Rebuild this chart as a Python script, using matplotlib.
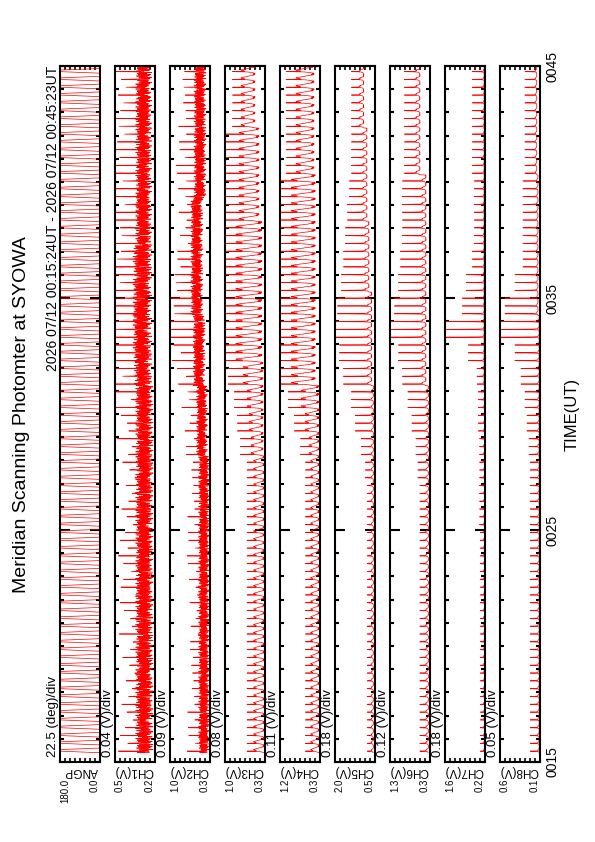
import numpy as np
import matplotlib
matplotlib.use('Agg')
import matplotlib.pyplot as plt
from matplotlib.ticker import FixedLocator

plt.rcParams['font.family'] = ['Liberation Sans', 'DejaVu Sans']

# Time span of the record (minutes after 00:00 UT)
t_first = 15 + 24 / 60     # 00:15:24
t_last = 45 + 23 / 60      # 00:45:23
scan_sec = 20.2            # one full scan cycle
minute_bins = list(range(15, 46))
time_ticks = [15, 25, 35, 45]
time_labels = ['0015', '0025', '0035', '0045']

title = 'Meridian Scanning Photomter at SYOWA'
header = '2026 07/12 00:15:24UT - 2026 07/12 00:45:23UT'

# Scanner angle (deg) over one cycle: sweep out, dwell, sweep back, dwell
cycle_angles = [0, 36, 72, 108, 144, 180, 180, 180, 180, 180, 180, 144, 108, 72, 36,
                0, 0, 0, 0, 0, 0, 0, 0, 0, 0]

# Panel names, ranges and scale labels
names = ['ANGP', 'CH1(V)', 'CH2(V)', 'CH3(V)', 'CH4(V)', 'CH5(V)', 'CH6(V)', 'CH7(V)', 'CH8(V)']
vmins = [0.0, 0.2, 0.3, 0.3, 0.3, 0.5, 0.3, 0.2, 0.1]
vmaxs = [180.0, 0.5, 1.0, 1.0, 1.2, 2.0, 1.3, 1.6, 0.6]
divs = ['22.5 (deg)/div', '0.04 (V)/div', '0.09 (V)/div', '0.08 (V)/div', '0.11 (V)/div',
        '0.18 (V)/div', '0.12 (V)/div', '0.18 (V)/div', '0.05 (V)/div']

# Per-minute levels (0015 ... 0045): background, scatter, auroral peak
ch1_base = [0.215] * 16 + [0.225] * 15
ch1_swing = [0.13] * 17 + [0.14] * 5 + [0.12] * 9
ch1_peak = [0.345] * 13 + [0.36, 0.37, 0.38, 0.41, 0.44, 0.50, 0.485, 0.455, 0.44, 0.425, 0.425] + [0.41] * 7

ch2_base = [0.31] * 13 + [0.345] * 3 + [0.385] * 3 + [0.425] * 5 + [0.37] * 7
ch2_swing = [0.19] * 16 + [0.21] * 15
ch2_peak = [0.51] * 13 + [0.58, 0.615, 0.65, 0.685, 0.755, 1.0, 0.86, 0.79, 0.72] + [0.685] * 4 + [0.65] * 5

ch3_base = [0.31] * 13 + [0.335] * 4 + [0.356] * 6 + [0.405] * 4 + [0.475] * 4
ch3_swing = [0.19] * 13 + [0.21, 0.245, 0.28, 0.35] + [0.455] * 6 + [0.35] * 4 + [0.245] * 4
ch3_peak = [0.51] * 13 + [0.615, 0.65, 0.685, 0.755, 0.825, 1.0, 0.895] + [0.86] * 3 + [0.79] * 4 + [0.734] * 4

ch4_base = [0.32] * 16 + [0.408] * 9 + [0.435] * 6
ch4_swing = [0.19] * 13 + [0.225, 0.315, 0.405] + [0.54] * 9 + [0.405] * 6
ch4_peak = [0.525] * 13 + [0.615, 0.705, 0.795, 0.885, 0.93, 1.2, 1.02] + [0.975] * 5 + [0.84] * 6

ch5_base = [0.56] * 16 + [0.62] * 4 + [0.725] * 3 + [0.80] * 4 + [0.92] * 4
ch5_swing = [0.075] * 16 + [0.15] * 15
ch5_peak = [0.725] * 12 + [0.80, 0.95, 1.175, 1.325, 1.55, 1.70, 2.0, 1.775, 1.625, 1.55, 1.475, 1.40, 1.325] + [1.25] * 6

ch6_base = [0.34] * 16 + [0.40] * 9 + [0.55] * 6
ch6_swing = [0.06] * 16 + [0.10] * 15
ch6_peak = [0.50] * 12 + [0.55, 0.60, 0.70, 0.80, 0.90, 1.00, 1.30, 1.10, 1.00, 0.95] + [0.90] * 3 + [0.85] * 6

ch7_base = [0.214] * 16 + [0.228] * 15
ch7_swing = [0.028] * 31
ch7_peak = [0.34] * 10 + [0.368] * 4 + [0.41, 0.41, 0.452, 0.76, 1.6, 0.97, 0.83, 0.62] + [0.55] * 3 + [0.62] * 6

ch8_base = [0.11] * 19 + [0.125] * 6 + [0.14] * 6
ch8_swing = [0.015] * 31
ch8_peak = [0.21] * 13 + [0.225, 0.25, 0.275, 0.325, 0.40, 0.60, 0.525, 0.40] + [0.30] * 4 + [0.275] * 6

# Shape over one scan cycle (fraction of scatter), same sample order as cycle_angles
noise_tex = [0.5, 0.9, 0.2, 0.7, 0.35, 1.0, 0.1, 0.6, 0.3, 0.8, 0.0, 0.55, 0.25, 0.75, 0.45,
             0.95, 0.15, 0.65, 0.4, 0.85, 0.05, 0.7, 0.3, 0.9, 0.2]
wave_tex = [0.0, 0.15, 0.2, 0.35, 0.4, 0.55, 0.6, 0.75, 0.8, 0.95, 1.0, 0.9, 0.85, 0.7, 0.65,
            0.5, 0.45, 0.3, 0.25, 0.1, 0.05, 0.15, 0.0, 0.1, 0.0]
step_tex = [0.1, 0.2, 0.3, 0.4, 0.6, 0.9, 1.0, 0.95, 1.0, 0.9, 1.0, 0.7, 0.5, 0.3, 0.2,
            0.0, 0.05, 0.0, 0.1, 0.0, 0.05, 0.0, 0.1, 0.0, 0.05]
# auroral emission seen as the scanner passes the arc
spike_cyc = [0, 0, 0, 0, 0.15, 1.0, 0.15, 0, 0, 0, 0, 0, 0, 0, 0,
             0, 0, 0, 0, 0, 0, 0, 0, 0, 0]

channels = [
    (ch1_base, ch1_swing, ch1_peak, noise_tex, 9),
    (ch2_base, ch2_swing, ch2_peak, noise_tex, 7),
    (ch3_base, ch3_swing, ch3_peak, wave_tex, 0),
    (ch4_base, ch4_swing, ch4_peak, wave_tex, 0),
    (ch5_base, ch5_swing, ch5_peak, step_tex, 0),
    (ch6_base, ch6_swing, ch6_peak, step_tex, 0),
    (ch7_base, ch7_swing, ch7_peak, step_tex, 0),
    (ch8_base, ch8_swing, ch8_peak, step_tex, 0),
]

# sample times of the scan cycles
n_cyc_samp = len(cycle_angles)
h = scan_sec / 60
n_cyc = int((t_last - t_first) / h)
k = np.repeat(np.arange(n_cyc), n_cyc_samp)
s = np.tile(np.arange(n_cyc_samp), n_cyc)
t = t_first + k * h + s * h / n_cyc_samp
m = np.clip((t_first + k * h - minute_bins[0]).astype(int), 0, len(minute_bins) - 1)
spike_val = np.array(spike_cyc)[s]

series = [np.array(cycle_angles)[s]]
for base, swing, peak, tex, shift in channels:
    base, swing, peak = np.array(base), np.array(swing), np.array(peak)
    tex_idx = (s + shift * k) % n_cyc_samp   # noise does not repeat scan to scan
    v = base[m] + swing[m] * np.array(tex)[tex_idx] + (peak[m] - base[m]) * spike_val
    series.append(v)

W, H = 595, 842
fig = plt.figure(figsize=(W / 100, H / 100), dpi=100)


def px(x, y):
    return x / W, 1 - y / H


top, bottom, pw = 66, 762, 40
for i in range(9):
    left = 60 + 55 * i
    ax = fig.add_axes([left / W, (H - bottom) / H, pw / W, (bottom - top) / H])
    ax.plot(series[i], t, color='red', lw=0.5)
    vmin, vmax = vmins[i], vmaxs[i]
    ax.set_xlim(vmax, vmin)
    ax.set_ylim(15, 45)

    ax.set_xticks([vmax, vmin])
    ax.set_xticklabels([f'{vmax:.1f}', f'{vmin:.1f}'])
    ax.xaxis.set_minor_locator(FixedLocator(np.linspace(vmin, vmax, 9)[1:-1]))
    ax.tick_params(axis='x', which='major', length=0, pad=12, labelsize=7, labelrotation=90)
    ax.tick_params(axis='x', which='minor', direction='in', length=3, width=1.2, top=True, bottom=True)
    lbls = ax.get_xticklabels()
    lbls[0].set_ha('left')
    lbls[1].set_ha('right')

    ax.set_yticks(time_ticks)
    ax.yaxis.set_minor_locator(FixedLocator(minute_bins))
    ax.tick_params(axis='y', which='major', direction='in', length=7, width=1.5,
                   left=True, right=True, labelleft=False, labelright=(i == 8))
    ax.tick_params(axis='y', which='minor', direction='in', length=3, width=1.5, left=True, right=True)
    if i == 8:
        ax.set_yticklabels(time_labels)
        ax.tick_params(axis='y', which='major', labelrotation=90, labelsize=10, pad=4)
        for lb in ax.get_yticklabels():
            lb.set_va('center')
    for sp in ax.spines.values():
        sp.set_linewidth(1.5)

    fig.text(*px(left + 38, 765), names[i], rotation=180, ha='right', va='top', fontsize=8.5)
    fig.text(*px(left - 7, 757), divs[i], rotation=90, ha='center', va='bottom', fontsize=9.5)

fig.text(*px(53, 66), header, rotation=90, ha='center', va='top', fontsize=10)
fig.text(*px(22, 415), title, rotation=90, ha='center', va='center', fontsize=14)
fig.text(*px(572, 414), 'TIME(UT)', rotation=90, ha='center', va='center', fontsize=12)

fig.savefig('out.png', dpi=100)
